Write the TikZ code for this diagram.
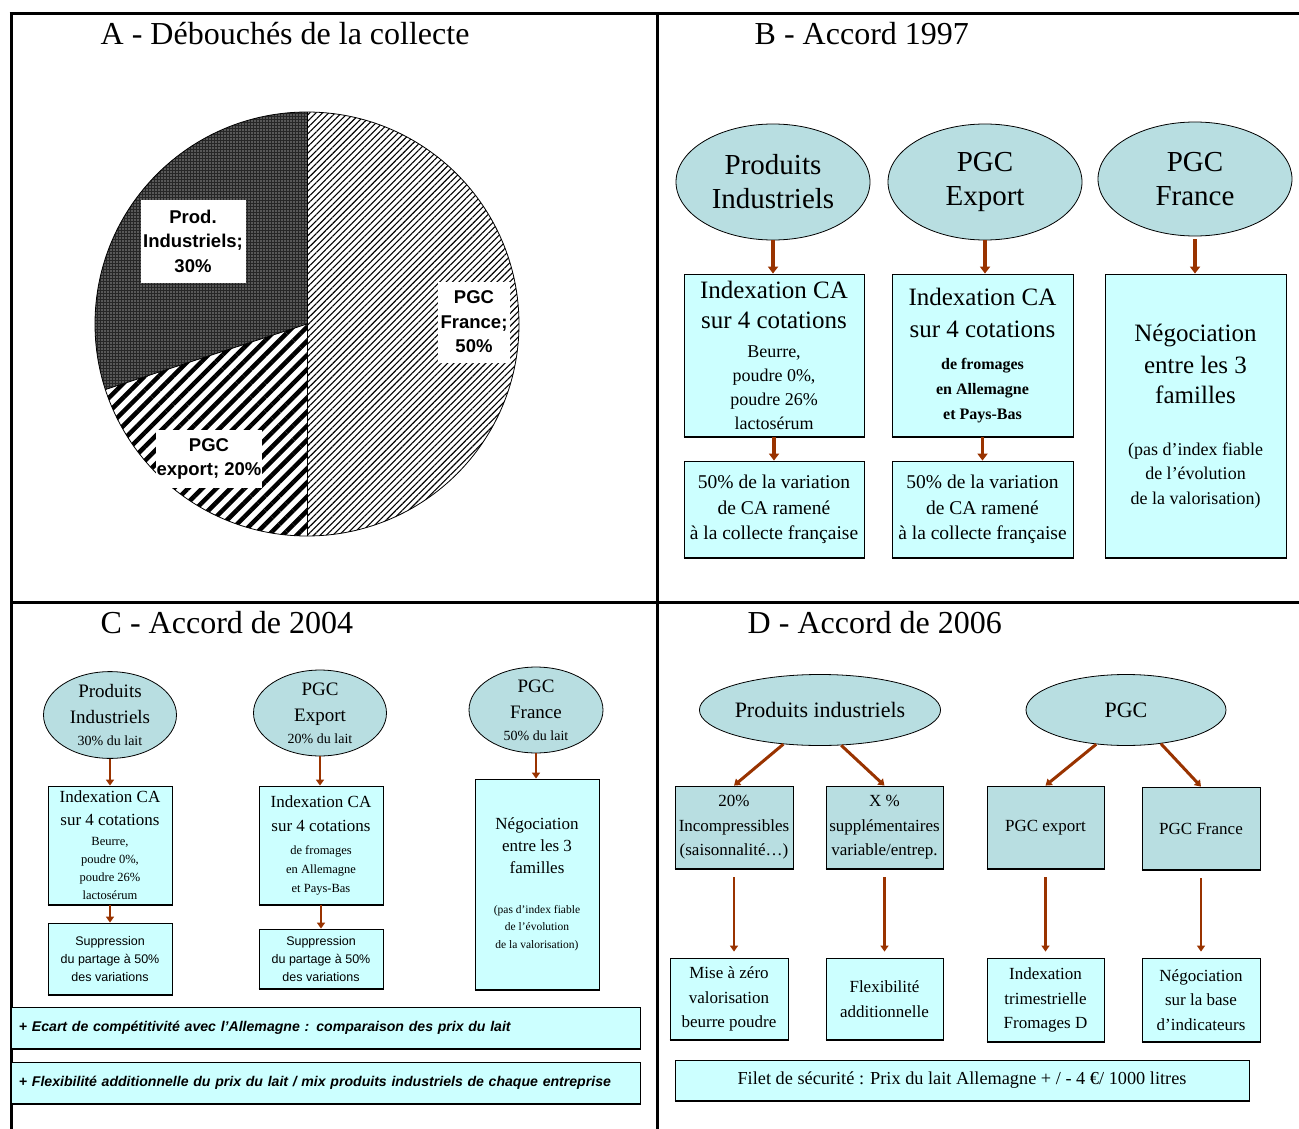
\documentclass[tikz,border=0pt]{standalone}
\usepackage{fontspec}
\setmainfont{Liberation Serif}
\setsansfont{Liberation Sans}
\usepackage{tikz}
\usetikzlibrary{shapes.geometric, arrows.meta, patterns.meta}
\definecolor{tuerkis}{RGB}{184,222,225}
\definecolor{hellcyan}{RGB}{204,255,255}
\definecolor{rostrot}{RGB}{153,51,0}
\newcommand{\schrift}[2]{\fontsize{#1}{#2}\selectfont}

\begin{document}
\begin{tikzpicture}[x=1pt, y=-1pt, line width=.8pt,
    titel/.style={font=\schrift{32}{38}, anchor=base west},
    oval/.style={ellipse, draw, fill=tuerkis, inner sep=0pt, align=center},
    kasten/.style={draw, fill=hellcyan, inner sep=0pt, align=center,
        append after command={(\tikzlastnode.south west) edge[line width=2pt] (\tikzlastnode.south east)}},
    etikett/.style={fill=white, inner sep=0pt, align=center, font=\sffamily\bfseries\schrift{18.5}{24.5}},
    pfeil/.style={draw=rostrot, line width=3.5pt, -{Triangle[length=7pt,width=10pt]}},
    pfeilklein/.style={draw=rostrot, line width=2.5pt, -{Triangle[length=6pt,width=8pt]}},
    balken/.style={kasten, align=left, text width=613, inner xsep=8pt, minimum height=42,
        font=\sffamily\bfseries\itshape\schrift{14.1}{16}}]
    \useasboundingbox (0,0) rectangle (1299,1129);

    % Rahmen.
    \draw[line width=3pt] (9.5,14) -- (1299,14);
    \draw[line width=3pt] (11,602) -- (1299,602);
    \draw[line width=3pt] (11,14) -- (11,1129);
    \draw[line width=3pt] (657,14) -- (657,1129);

    % Titel.
    \node[titel] (tA) at (97,45) {A - Débouchés de la collecte};
    \node[titel] (tB) at (751,45) {B - Accord 1997};
    \node[titel] (tC) at (97,633) {C - Accord de 2004};
    \node[titel] (tD) at (744,633) {D - Accord de 2006};

    % A: Torte.
    \coordinate (pm) at (307,324);
    \fill[white] (pm) circle[radius=212];
    \fill[pattern={Lines[angle=45,distance=4.5pt,line width=1.1pt]}]
        (pm) -- ++(-90:212) arc[start angle=-90, end angle=90, radius=212] -- cycle;
    \fill[pattern={Lines[angle=45,distance=10pt,line width=4.5pt]}]
        (pm) -- ++(90:212) arc[start angle=90, end angle=162, radius=212] -- cycle;
    \fill[black!85]
        (pm) -- ++(162:212) arc[start angle=162, end angle=270, radius=212] -- cycle;
    \fill[pattern={Dots[distance=3pt,radius=.7pt]}, pattern color=white]
        (pm) -- ++(162:212) arc[start angle=162, end angle=270, radius=212] -- cycle;
    \draw (pm) circle[radius=212];
    \draw (pm) -- ++(-90:212);
    \draw (pm) -- ++(90:212);
    \draw (pm) -- ++(162:212);

    \node[etikett, minimum width=105, minimum height=83] (lPI) at (193,241) {Prod.\\Industriels;\\30\%};
    \node[etikett, minimum width=72, minimum height=81] (lPF) at (474,322) {PGC\\France;\\50\%};
    \node[etikett, minimum width=106, minimum height=58] (lPE) at (209,459) {PGC\\export; 20\%};

    % B: Accord 1997.
    \node[oval, minimum width=194, minimum height=116, font=\schrift{29}{34}] (eB1) at (773,182) {Produits\\Industriels};
    \node[oval, minimum width=194, minimum height=116, font=\schrift{29}{34}] (eB2) at (985,182) {PGC\\Export};
    \node[oval, minimum width=194, minimum height=114, font=\schrift{29}{34}] (eB3) at (1195,179) {PGC\\France};

    \node[kasten, minimum width=180, minimum height=163, font=\schrift{18}{24}] (bB1) at (774,355.5)
        {{\schrift{25}{30}Indexation CA}\\[6pt]{\schrift{25}{30}sur 4 cotations}\\[5pt]Beurre,\\poudre 0\%,\\poudre 26\%\\lactosérum};
    \node[kasten, minimum width=181, minimum height=163, font=\schrift{16}{25}\bfseries] (bB2) at (982.5,355.5)
        {{\schrift{25}{30}\mdseries Indexation CA}\\[7pt]{\schrift{25}{30}\mdseries sur 4 cotations}\\[7pt]de fromages\\en Allemagne\\et Pays-Bas};
    \node[kasten, minimum width=181, minimum height=284, font=\schrift{18}{24.5}] (bB3) at (1195.5,416)
        {{\schrift{25}{30}Négociation}\\[7.5pt]{\schrift{25}{30}entre les 3}\\[5.5pt]{\schrift{25}{30}familles}\\[27.5pt](pas d’index fiable\\de l’évolution\\de la valorisation)};
    \node[kasten, minimum width=180, minimum height=97, font=\schrift{19.5}{25.5}] (bB4) at (774,509.5)
        {50\% de la variation\\de CA ramené\\à la collecte française};
    \node[kasten, minimum width=181, minimum height=97, font=\schrift{19.5}{25.5}] (bB5) at (982.5,509.5)
        {50\% de la variation\\de CA ramené\\à la collecte française};

    \draw[pfeil] (eB1.south) -- (eB1.south |- bB1.north);
    \draw[pfeil] (eB2.south) -- (eB2.south |- bB2.north);
    \draw[pfeil] ([yshift=-3pt]eB3.south) -- (eB3.south |- bB3.north);
    \draw[pfeil] (bB1.south) -- (bB4.north);
    \draw[pfeil] (bB2.south) -- (bB5.north);

    % C: Accord de 2004.
    \node[oval, minimum width=133, minimum height=85, font=\schrift{14}{22}] (eC1) at (110,715)
        {{\schrift{19}{26}Produits}\\[4pt]{\schrift{19}{26}Industriels}\\30\% du lait};
    \node[oval, minimum width=133, minimum height=83, font=\schrift{14}{22}] (eC2) at (320,713)
        {{\schrift{19}{26}PGC}\\[4pt]{\schrift{19}{26}Export}\\20\% du lait};
    \node[oval, minimum width=134, minimum height=77, font=\schrift{14}{22}] (eC3) at (536,710)
        {{\schrift{19}{26}PGC}\\[4pt]{\schrift{19}{26}France}\\50\% du lait};

    \node[kasten, minimum width=124, minimum height=119, font=\schrift{12.5}{18}] (bC1) at (110,845.5)
        {{\schrift{17}{23}Indexation CA}\\[5pt]{\schrift{17}{23}sur 4 cotations}\\[2pt]Beurre,\\poudre 0\%,\\poudre 26\%\\lactosérum};
    \node[kasten, minimum width=124, minimum height=119, font=\schrift{12.5}{19}] (bC2) at (321,845.5)
        {{\schrift{17}{23}Indexation CA}\\[5pt]{\schrift{17}{23}sur 4 cotations}\\[4pt]de fromages\\en Allemagne\\et Pays-Bas};
    \node[kasten, minimum width=124, minimum height=211, font=\schrift{11.5}{17.5}] (bC3) at (537,884.5)
        {{\schrift{17}{22}Négociation}\\[4.5pt]{\schrift{17}{22}entre les 3}\\[4.5pt]{\schrift{17}{22}familles}\\[22pt](pas d’index fiable\\de l’évolution\\de la valorisation)};
    \node[kasten, minimum width=124, minimum height=72, font=\sffamily\schrift{12.5}{18}] (bC4) at (110,959)
        {Suppression\\du partage à 50\%\\des variations};
    \node[kasten, minimum width=124, minimum height=60, font=\sffamily\schrift{12.5}{18}] (bC5) at (321,959)
        {Suppression\\du partage à 50\%\\des variations};

    \draw[pfeilklein] (eC1.south) -- (eC1.south |- bC1.north);
    \draw[pfeilklein] (eC2.south) -- (eC2.south |- bC2.north);
    \draw[pfeilklein] (eC3.south) -- (eC3.south |- bC3.north);
    \draw[pfeilklein] (bC1.south) -- (bC4.north);
    \draw[pfeilklein] (bC2.south) -- (bC5.north);

    \node[balken] (kC1) at (325.5,1028) {+ Ecart de compétitivité avec l’Allemagne : comparaison des prix du lait};
    \node[balken] (kC2) at (325.5,1083) {+ Flexibilité additionnelle du prix du lait / mix produits industriels de chaque entreprise};

    % D: Accord de 2006.
    \node[oval, minimum width=200, minimum height=71, font=\schrift{22}{26}] (eD1) at (820,710) {Produits industriels};
    \node[oval, minimum width=200, minimum height=71, font=\schrift{22}{26}] (eD2) at (1126,710) {PGC};

    \node[kasten, fill=tuerkis, minimum width=118, minimum height=83, font=\schrift{17}{24.5}] (bD1) at (734,827.5)
        {20\%\\Incompressibles\\(saisonnalité…)};
    \node[kasten, fill=tuerkis, minimum width=117, minimum height=83, font=\schrift{17}{24.5}] (bD2) at (884.5,827.5)
        {X \%\\supplémentaires\\variable/entrep.};
    \node[kasten, fill=tuerkis, minimum width=117, minimum height=83, font=\schrift{17}{24.5}] (bD3) at (1045.5,827.5)
        {PGC export};
    \node[kasten, fill=tuerkis, minimum width=118, minimum height=83, font=\schrift{17}{24.5}] (bD4) at (1201,828.5)
        {PGC France};

    \node[kasten, minimum width=118, minimum height=82, font=\schrift{17}{24.5}] (bD5) at (729,999)
        {Mise à zéro\\valorisation\\beurre poudre};
    \node[kasten, minimum width=117, minimum height=82, font=\schrift{17}{24.5}] (bD6) at (884.5,999)
        {Flexibilité\\additionnelle};
    \node[kasten, minimum width=117, minimum height=84, font=\schrift{17}{24.5}] (bD7) at (1045.5,1000)
        {Indexation\\trimestrielle\\Fromages D};
    \node[kasten, minimum width=118, minimum height=84, font=\schrift{17}{24.5}] (bD8) at (1201,1000)
        {Négociation\\sur la base\\d’indicateurs};

    \draw[pfeilklein, line width=3pt] (eD1.223) -- (bD1.north);
    \draw[pfeilklein, line width=3pt] (eD1.301) -- (bD2.north);
    \draw[pfeilklein, line width=3pt] (eD2.229) -- (bD3.north);
    \draw[pfeilklein, line width=3pt] (eD2.316) -- (bD4.north);

    \draw[pfeilklein, shorten <=8pt, shorten >=6pt] (bD1.south) -- (bD1.south |- bD5.north);
    \draw[pfeilklein, shorten <=8pt, shorten >=6pt] (bD2.south) -- (bD2.south |- bD6.north);
    \draw[pfeilklein, shorten <=8pt, shorten >=6pt] (bD3.south) -- (bD3.south |- bD7.north);
    \draw[pfeilklein, shorten <=8pt, shorten >=6pt] (bD4.south) -- (bD4.south |- bD8.north);

    \node[kasten, minimum width=574, minimum height=41, font=\schrift{18.3}{20}] (kD) at (962,1080.5)
        {Filet de sécurité : Prix du lait Allemagne + / - 4 €/ 1000 litres};
\end{tikzpicture}
\end{document}
